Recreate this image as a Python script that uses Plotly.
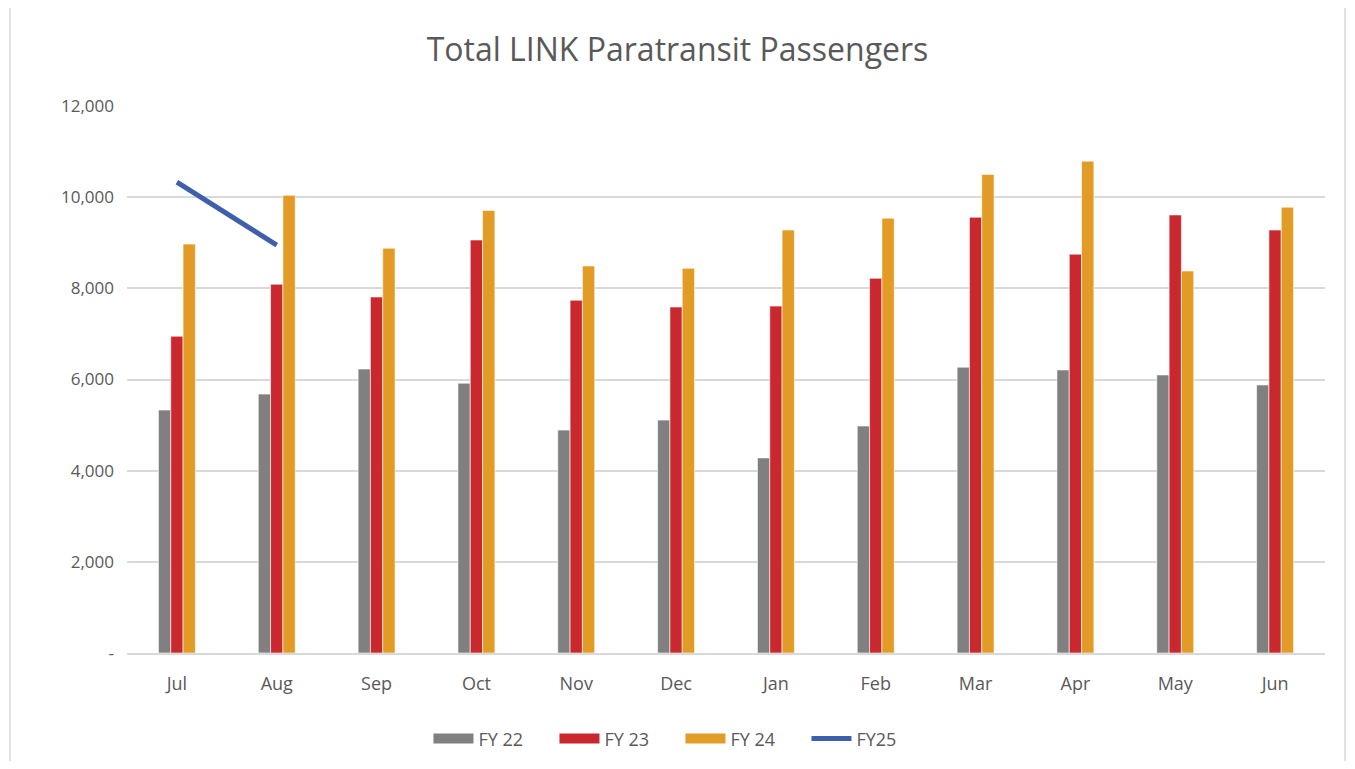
import plotly.graph_objects as go

months = ["Jul", "Aug", "Sep", "Oct", "Nov", "Dec", "Jan", "Feb", "Mar", "Apr", "May", "Jun"]
fy22 = [5330, 5680, 6230, 5920, 4890, 5110, 4280, 4980, 6270, 6210, 6100, 5880]
fy23 = [6950, 8090, 7810, 9060, 7740, 7590, 7610, 8220, 9560, 8750, 9610, 9280]
fy24 = [8970, 10040, 8880, 9710, 8490, 8440, 9280, 9540, 10500, 10790, 8380, 9780]
fy25 = [10330, 8950]

tick_vals = [0, 2000, 4000, 6000, 8000, 10000, 12000]
tick_text = ["-", "2,000", "4,000", "6,000", "8,000", "10,000", "12,000"]

font = "Open Sans"
txt = "#595959"
colors = {"FY 22": "#808080", "FY 23": "#C9282F", "FY 24": "#E29B24"}

W, H = 1339, 753
L, T, PW, PH = 119, 98, 1198, 547

fig = go.Figure()
for name, vals in [("FY 22", fy22), ("FY 23", fy23), ("FY 24", fy24)]:
    fig.add_trace(go.Bar(x=months, y=vals, name=name, showlegend=False,
                         marker=dict(color=colors[name], line=dict(color="white", width=0.6))))
fig.add_trace(go.Scatter(x=months[:len(fy25)], y=fy25, name="FY25", mode="lines",
                         showlegend=False, line=dict(color="#3F5FAD", width=5)))
# legend entries
for name in ["FY 22", "FY 23", "FY 24"]:
    fig.add_trace(go.Scatter(x=[None], y=[None], name=name, mode="lines",
                             line=dict(color=colors[name], width=10)))
fig.add_trace(go.Scatter(x=[None], y=[None], name="FY25", mode="lines",
                         line=dict(color="#3F5FAD", width=5)))

fig.update_layout(
    width=W, height=H,
    paper_bgcolor="white", plot_bgcolor="white",
    margin=dict(l=L, r=W - L - PW, t=T, b=H - T - PH, autoexpand=False),
    barmode="group", bargap=0.63, bargroupgap=0,
    title=dict(text="Total LINK Paratransit Passengers", x=0.5, xanchor="center",
               y=1 - 42 / H, yanchor="middle", font=dict(family=font, size=32, color=txt)),
    font=dict(family=font, color=txt, size=18),
    legend=dict(orientation="h", x=0.462, xanchor="center", y=-0.157, yanchor="middle",
                font=dict(family=font, size=18, color=txt), traceorder="normal",
                itemwidth=40, entrywidth=71, entrywidthmode="pixels"),
    xaxis=dict(showgrid=False, showline=True, linecolor="#D9D9D9", linewidth=1.5,
               ticks="", tickfont=dict(size=18, color=txt), ticklabelstandoff=14),
    yaxis=dict(range=[0, 12000], tickvals=tick_vals, ticktext=tick_text,
               showgrid=True, gridcolor="#D9D9D9", gridwidth=1.5, zeroline=False,
               showline=False, ticks="", tickfont=dict(size=17, color=txt), ticklabelstandoff=12),
    shapes=[dict(type="rect", xref="paper", yref="paper",
                 x0=-117 / PW, x1=(1345 - 127) / PW,
                 y0=(653 - 762) / PH, y1=(653 - 7) / PH,
                 line=dict(color="#D9D9D9", width=1.5), fillcolor="rgba(0,0,0,0)", layer="below")],
)

fig.write_html("out.html")
